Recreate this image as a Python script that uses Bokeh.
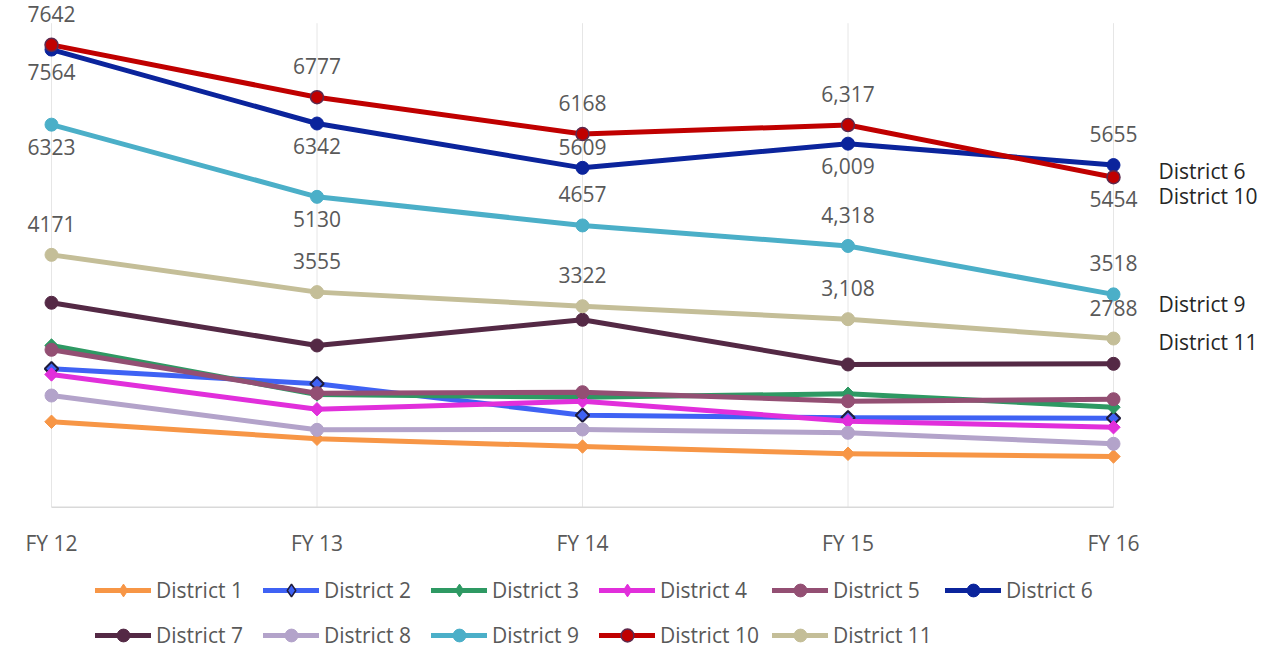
import math
from bokeh.plotting import figure
from bokeh.models import ColumnDataSource, LabelSet, Legend, LegendItem, Range1d
from bokeh.core.properties import value
from bokeh.embed import file_html
from bokeh.resources import INLINE

# ---------------- data ----------------
years = ["FY 12", "FY 13", "FY 14", "FY 15", "FY 16"]
district_names = ["District 1", "District 2", "District 3", "District 4",
                  "District 5", "District 6", "District 7", "District 8",
                  "District 9", "District 10", "District 11"]

d1 = [1412, 1131, 1003, 883, 838]
d2 = [2288, 2040, 1521, 1478, 1471]
d3 = [2673, 1863, 1818, 1875, 1653]
d4 = [2194, 1620, 1752, 1422, 1322]
d5 = [2602, 1884, 1901, 1752, 1785]
d6 = [7564, 6342, 5609, 6009, 5655]
d7 = [3379, 2673, 3098, 2359, 2370]
d8 = [1846, 1279, 1284, 1230, 1048]
d9 = [6323, 5130, 4657, 4318, 3518]
d10 = [7642, 6777, 6168, 6317, 5454]
d11 = [4171, 3555, 3322, 3108, 2788]

# data label texts (as printed on the chart)
d6_labels = ["7564", "6342", "5609", "6,009", "5655"]
d9_labels = ["6323", "5130", "4657", "4,318", "3518"]
d10_labels = ["7642", "6777", "6168", "6,317", "5454"]
d11_labels = ["4171", "3555", "3322", "3,108", "2788"]

y_max = 8000

# ---------------- styles ----------------
series = [d1, d2, d3, d4, d5, d6, d7, d8, d9, d10, d11]
colors = ["#F79646", "#3F62F4", "#2E9963", "#E12FDB", "#934F73", "#0B249C",
          "#542945", "#B3A3CA", "#4BAFC8", "#C00000", "#C4BE98"]
markers = ["diamond", "diamond", "diamond", "diamond", "circle", "circle",
           "circle", "circle", "circle", "circle", "circle"]
outlines = [None, "#1E1B3A", None, None, None, None, None, None, None,
            "#5C2A4E", None]

label_sets = [
    (d6, d6_labels, ["below", "below", "near", "below", "above"]),
    (d9, d9_labels, ["below", "below", "above", "above", "above"]),
    (d10, d10_labels, ["above", "above", "above", "above", "below"]),
    (d11, d11_labels, ["above", "above", "above", "above", "above"]),
]
offset_for = {"above": 31, "near": 21, "below": -22}

end_labels = [("District 6", d6, -6), ("District 10", d10, -19),
              ("District 9", d9, -10), ("District 11", d11, -3)]

FONT = "Open Sans"
GREY = "#595959"
W, H = 1276, 649
X0_PX, X_STEP = 51.0, 265.5          # screen position of first category, px per category
BASE_PX, PLOT_H = 506.7, 484.0       # screen y of value 0, px height of 0..y_max
units_per_px = y_max / PLOT_H

xs = list(range(len(years)))

p = figure(width=W, height=H,
           x_range=Range1d(-X0_PX / X_STEP, (W - X0_PX) / X_STEP),
           y_range=Range1d(-(H - BASE_PX) * units_per_px, BASE_PX * units_per_px),
           output_backend="svg", toolbar_location=None,
           x_axis_location=None, y_axis_location=None,
           min_border=0, min_border_left=0, min_border_right=0,
           min_border_top=0, min_border_bottom=0)
p.outline_line_color = None
p.xgrid.visible = False
p.ygrid.visible = False
p.background_fill_color = "white"
p.border_fill_color = "white"

# vertical category gridlines and the category axis line
p.segment(x0=xs, y0=[0] * len(xs), x1=xs, y1=[y_max] * len(xs),
          line_color="#E6E6E6", line_width=1)
p.segment(x0=[xs[0]], y0=[0], x1=[xs[-1]], y1=[0],
          line_color="#D9D9D9", line_width=1.5)
p.text(x=xs, y=[0] * len(xs), text=years, y_offset=36,
       text_align="center", text_baseline="middle",
       text_font=value(FONT), text_font_size="21px", text_color=GREY)

items = []
for name, vals, col, mk, ol in zip(district_names, series, colors, markers, outlines):
    src = ColumnDataSource(dict(x=xs, y=vals))
    lc = ol if ol else col
    lr = p.line("x", "y", source=src, line_color=col, line_width=5,
                line_join="round", line_cap="round")
    if mk == "diamond":
        # narrow diamond (hidden under the marker) supplies the legend glyph
        lg = p.scatter("x", "y", source=src, marker="diamond", size=9,
                       fill_color=col, line_color=lc, line_width=1.5 if ol else 1)
        p.scatter("x", "y", source=src, marker="square", angle=math.pi / 4,
                  size=9.5, fill_color=col, line_color=lc,
                  line_width=2 if ol else 1)
    else:
        lg = p.scatter("x", "y", source=src, marker="circle", size=13,
                       fill_color=col, line_color=lc,
                       line_width=1.5 if ol else 1)
    items.append(LegendItem(label=name, renderers=[lr, lg]))

for vals, texts, places in label_sets:
    src = ColumnDataSource(dict(x=xs, y=vals, t=texts,
                                off=[offset_for[pl] for pl in places]))
    p.add_layout(LabelSet(x="x", y="y", text="t", source=src, y_offset="off",
                          text_align="center", text_baseline="middle",
                          text_font=value(FONT), text_font_size="21px",
                          text_color=GREY))

last = len(years) - 1
src_end = ColumnDataSource(dict(x=[last] * len(end_labels),
                                y=[v[last] for _, v, _ in end_labels],
                                t=[n for n, _, _ in end_labels],
                                off=[o for _, _, o in end_labels]))
p.add_layout(LabelSet(x="x", y="y", text="t", source=src_end, x_offset=45,
                      y_offset="off", text_align="left", text_baseline="middle",
                      text_font=value(FONT), text_font_size="21px",
                      text_color="#262626"))

legend = Legend(items=items, orientation="horizontal", ncols=6,
                location=(95, -2),
                glyph_width=56, glyph_height=32, label_standoff=5,
                label_width=94, spacing=13, padding=0, margin=0,
                label_text_font=FONT, label_text_font_size="21px",
                label_text_color=GREY,
                border_line_color=None, background_fill_alpha=0)
p.add_layout(legend, "center")

open("out.html", "w").write(file_html(p, INLINE))
